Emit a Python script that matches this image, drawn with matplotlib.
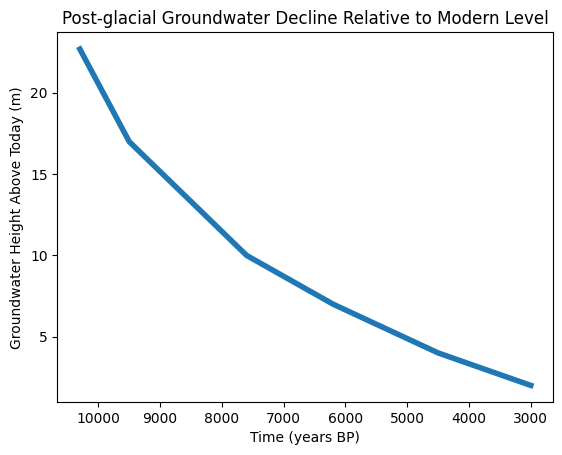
import matplotlib
matplotlib.use('Agg')
import matplotlib.pyplot as plt

# Groundwater height relative to modern level
years_bp = [10300, 9500, 7600, 6200, 4500, 3000]
height_m = [22.7, 17.0, 10.0, 7.0, 4.0, 2.0]

fig = plt.figure(figsize=(5.62, 4.55), dpi=100)
ax = fig.add_subplot(111)
fig.subplots_adjust(left=0.102, right=0.9845, top=0.929, bottom=0.116)

ax.plot(years_bp, height_m, linewidth=4)
ax.invert_xaxis()
ax.set_title('Post-glacial Groundwater Decline Relative to Modern Level')
ax.set_xlabel('Time (years BP)')
ax.set_ylabel('Groundwater Height Above Today (m)')

fig.savefig('out.png', dpi=100)
